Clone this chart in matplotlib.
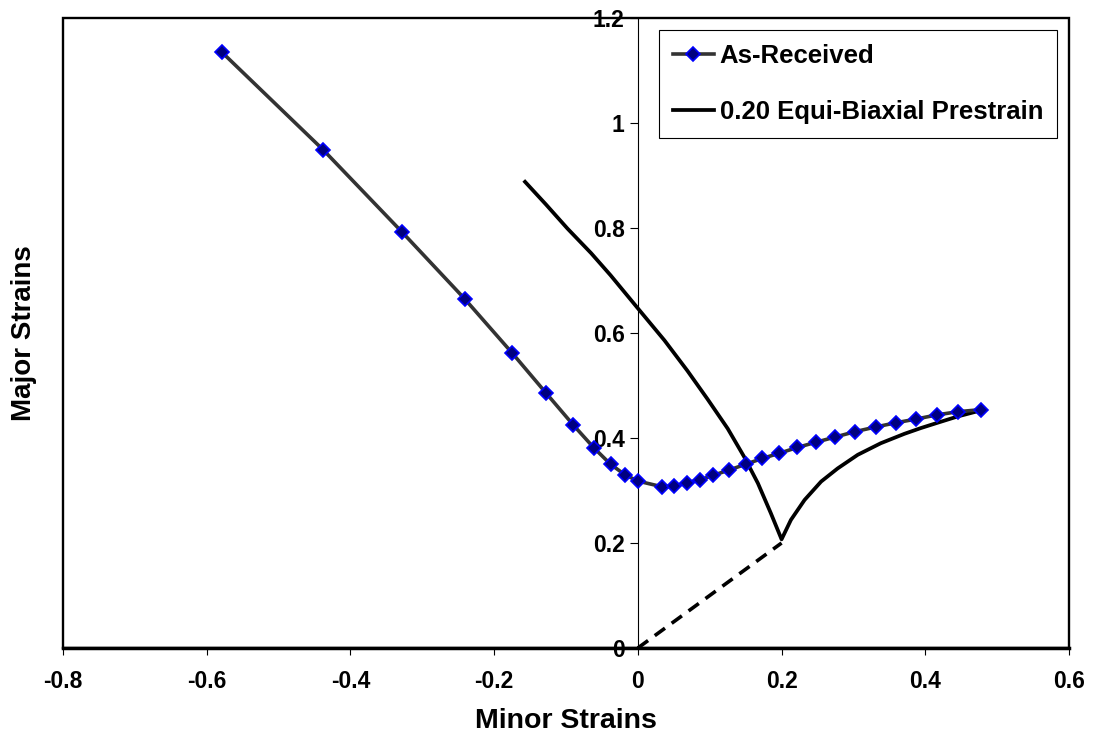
import matplotlib
matplotlib.use('Agg')
import matplotlib.pyplot as plt
import matplotlib.patches as patches

plt.rcParams['font.family'] = ['Liberation Sans', 'DejaVu Sans']
plt.rcParams['font.weight'] = 'bold'

# As-Received forming limit curve
as_rec_x = [-0.579, -0.438, -0.328, -0.241, -0.175, -0.128, -0.090, -0.061,
            -0.038, -0.018, 0.0, 0.034, 0.050, 0.068, 0.086, 0.105, 0.127,
            0.150, 0.173, 0.197, 0.222, 0.248, 0.275, 0.302, 0.331, 0.359,
            0.387, 0.416, 0.445, 0.477]
as_rec_y = [1.135, 0.949, 0.792, 0.665, 0.562, 0.486, 0.425, 0.381,
            0.350, 0.330, 0.318, 0.307, 0.308, 0.315, 0.320, 0.329, 0.339,
            0.350, 0.361, 0.371, 0.382, 0.392, 0.402, 0.412, 0.421, 0.429,
            0.436, 0.444, 0.450, 0.454]

# 0.20 equi-biaxial prestrain curve
pre_x = [-0.157, -0.128, -0.098, -0.065, -0.038, 0.0, 0.037, 0.069, 0.097,
         0.125, 0.148, 0.167, 0.185, 0.200, 0.213, 0.232, 0.255, 0.278,
         0.306, 0.338, 0.371, 0.394, 0.417, 0.445, 0.473]
pre_y = [0.888, 0.845, 0.799, 0.752, 0.710, 0.647, 0.586, 0.528, 0.474,
         0.418, 0.364, 0.314, 0.257, 0.207, 0.244, 0.282, 0.317, 0.342,
         0.368, 0.390, 0.408, 0.419, 0.429, 0.441, 0.451]

# prestrain path
path_x = [0.0, 0.2]
path_y = [0.0, 0.2]

xticks = [-0.8, -0.6, -0.4, -0.2, 0.0, 0.2, 0.4, 0.6]
xtick_labels = ['-0.8', '-0.6', '-0.4', '-0.2', '0', '0.2', '0.4', '0.6']
yticks = [0.0, 0.2, 0.4, 0.6, 0.8, 1.0, 1.2]
ytick_labels = ['0', '0.2', '0.4', '0.6', '0.8', '1', '1.2']

fig = plt.figure(figsize=(10.93, 7.36), dpi=100)
ax = fig.add_axes([63/1093, 88/736, 1006/1093, 630/736])

ax.plot(path_x, path_y, color='black', lw=2.6, ls=(0, (3.5, 2.3)), zorder=2)
ax.plot(pre_x, pre_y, color='black', lw=2.7, zorder=3,
        label='0.20 Equi-Biaxial Prestrain')
ax.plot(as_rec_x, as_rec_y, color='#333333', lw=2.6, marker='D', ms=7,
        mfc='#000080', mec='#0000FF', mew=1.2, zorder=4, label='As-Received')

ax.set_xlim(-0.8, 0.6)
ax.set_ylim(0, 1.2)
ax.set_xticks(xticks)
ax.set_xticklabels(xtick_labels)
ax.set_yticks(yticks)
ax.set_yticklabels(ytick_labels)

ax.spines['left'].set_position(('data', 0))
ax.spines['left'].set_linewidth(0.8)
ax.spines['top'].set_visible(False)
ax.spines['right'].set_visible(False)
ax.spines['bottom'].set_linewidth(2.5)
ax.add_patch(patches.Rectangle((0, 0), 1, 1, transform=ax.transAxes,
                               fill=False, lw=1.7, edgecolor='black',
                               clip_on=False, zorder=5))

ax.tick_params(axis='x', direction='out', length=5, width=0.8,
               labelsize=16.5, pad=11)
ax.tick_params(axis='y', direction='out', length=6, width=0.8,
               labelsize=16.5, pad=3.5)

ax.set_xlabel('Minor Strains', fontsize=20.5, fontweight='bold')
ax.set_ylabel('Major Strains', fontsize=20, fontweight='bold')
ax.xaxis.set_label_coords(0.5, -0.095)
ax.yaxis.set_label_coords(-0.0255, 0.5)

handles, labels = ax.get_legend_handles_labels()
leg = ax.legend(handles[::-1], labels[::-1], loc='upper right',
                fontsize=18.5, frameon=True, fancybox=False, shadow=False,
                edgecolor='black', framealpha=1, numpoints=1,
                handlelength=1.6, handletextpad=0.23, labelspacing=1.26,
                borderpad=0.55, borderaxespad=0.45)
leg.get_frame().set_linewidth(0.8)

fig.savefig('out.png', dpi=100)
